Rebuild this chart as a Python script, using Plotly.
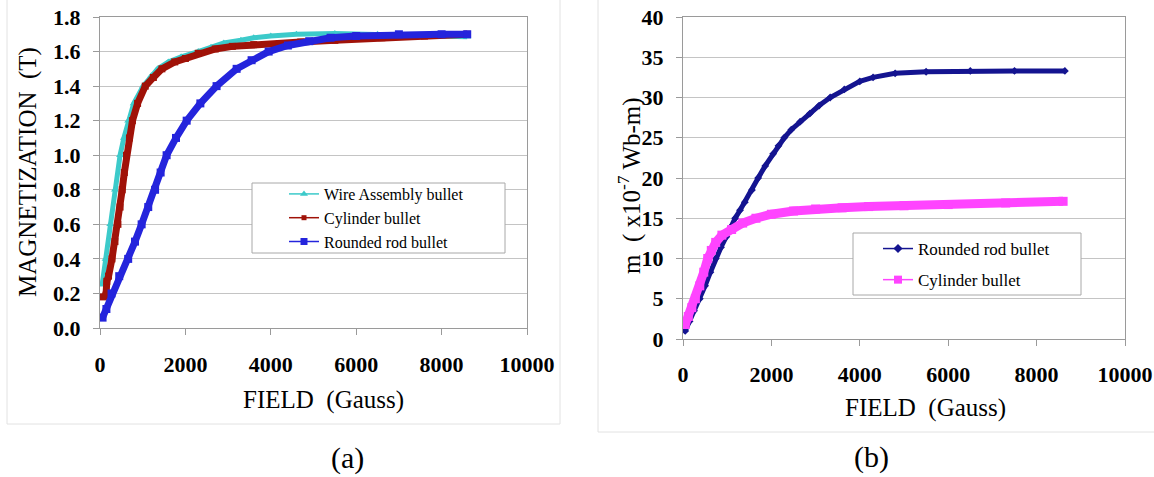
import plotly.graph_objects as go

W, H = 1154, 477
SERIF = "Liberation Serif"

field_ticks = [0, 2000, 4000, 6000, 8000, 10000]
field_tick_text = ["0", "2000", "4000", "6000", "8000", "10000"]

# (a) magnetization (T) against applied field (Gauss)
wire_field = [50, 130, 240, 350, 470, 560, 660, 790, 1010, 1200, 1350, 1600, 1900,
              2300, 2600, 2900, 3300, 3600, 4000, 4600, 5500, 6500, 7500, 8600]
wire_mag = [0.25, 0.40, 0.60, 0.80, 1.00, 1.10, 1.20, 1.30, 1.40, 1.46, 1.50, 1.54, 1.57,
            1.60, 1.625, 1.65, 1.665, 1.68, 1.69, 1.70, 1.705, 1.70, 1.695, 1.685]

cyl_a_field = [80, 140, 160, 200, 280, 350, 420, 470, 520, 570, 620, 690, 760, 880,
               1060, 1250, 1450, 1750, 2000, 2300, 2700, 3100, 3600, 4200, 4700,
               5500, 6600, 7600, 8600]
cyl_a_mag = [0.18, 0.19, 0.27, 0.30, 0.40, 0.50, 0.60, 0.70, 0.80, 0.90, 1.00, 1.10,
             1.20, 1.30, 1.40, 1.45, 1.50, 1.54, 1.56, 1.59, 1.615, 1.63, 1.64, 1.645,
             1.655, 1.665, 1.68, 1.69, 1.70]

rod_a_field = [60, 150, 270, 450, 660, 820, 975, 1130, 1290, 1420, 1560, 1780, 2030,
               2350, 2730, 3200, 3550, 3950, 4400, 4900, 5400, 6000, 7000, 8000, 8600]
rod_a_mag = [0.06, 0.11, 0.20, 0.30, 0.40, 0.50, 0.60, 0.70, 0.80, 0.90, 1.00, 1.10,
             1.20, 1.30, 1.40, 1.50, 1.55, 1.60, 1.635, 1.66, 1.68, 1.69, 1.70, 1.70, 1.70]

# (b) magnetic moment (x10^-7 Wb-m) against applied field (Gauss)
rod_b_field = [50, 150, 250, 380, 500, 620, 740, 860, 980, 1080, 1180, 1290, 1400,
               1560, 1700, 1860, 2040, 2160, 2290, 2450, 2650, 2870, 3080, 3330, 3650,
               4000, 4300, 4800, 5500, 6500, 7500, 8640]
rod_b_m = [1.0, 2.2, 3.5, 5.0, 6.6, 8.3, 10.0, 11.4, 12.7, 13.9, 15.0, 16.0, 17.0,
           18.5, 20.0, 21.5, 23.0, 24.0, 25.0, 26.0, 27.0, 28.0, 29.0, 30.0, 31.0,
           32.0, 32.5, 33.0, 33.2, 33.3, 33.3, 33.3]

cyl_b_field = [50, 120, 200, 280, 380, 470, 560, 640, 740, 880, 1100, 1350, 1650, 2000,
               2500, 3000, 3600, 4200, 5000, 6000, 7300, 8600]
cyl_b_m = [1.8, 2.8, 3.9, 5.0, 6.6, 8.3, 10.0, 11.0, 12.0, 12.9, 13.6, 14.4, 15.0, 15.5,
           15.9, 16.15, 16.3, 16.45, 16.55, 16.7, 16.9, 17.1]

# name, x, y, colour, marker symbol, band width, marker size, legend marker size
series_a = [
    ("Wire Assembly bullet", wire_field, wire_mag, "#3ccaca", "triangle-up", 5, 7, 7),
    ("Cylinder bullet", cyl_a_field, cyl_a_mag, "#a01208", "square", 7, 7, 5),
    ("Rounded rod bullet", rod_a_field, rod_a_mag, "#2424dc", "square", 7, 8, 7),
]
series_b = [
    ("Rounded rod bullet", rod_b_field, rod_b_m, "#141490", "diamond", 5, 6, 7),
    ("Cylinder bullet", cyl_b_field, cyl_b_m, "#ff44ff", "square", 9, 9, 8),
]

fig = go.Figure()


def px_x(p):
    return p / W


def px_y(p):
    return 1 - p / H


for name, xs, ys, color, symbol, lw, ms, legend_ms in series_a:
    fig.add_trace(go.Scatter(
        x=xs, y=ys, mode="lines+markers", xaxis="x", yaxis="y", showlegend=False,
        line=dict(color=color, width=lw), marker=dict(color=color, symbol=symbol, size=ms),
        hoverinfo="skip"))
for name, xs, ys, color, symbol, lw, ms, legend_ms in series_a:
    fig.add_trace(go.Scatter(
        x=[None], y=[None], name=name, mode="lines+markers", xaxis="x", yaxis="y",
        legend="legend", line=dict(color=color, width=1.5),
        marker=dict(color=color, symbol=symbol, size=legend_ms)))

for name, xs, ys, color, symbol, lw, ms, legend_ms in series_b:
    fig.add_trace(go.Scatter(
        x=xs, y=ys, mode="lines+markers", xaxis="x2", yaxis="y2", showlegend=False,
        line=dict(color=color, width=lw), marker=dict(color=color, symbol=symbol, size=ms),
        hoverinfo="skip"))
for i, (name, xs, ys, color, symbol, lw, ms, legend_ms) in enumerate(series_b):
    fig.add_trace(go.Scatter(
        x=[None], y=[None], name=name, mode="lines+markers", xaxis="x2", yaxis="y2",
        legend="legend2", legendgroup=f"b{i}", line=dict(color=color, width=1.5),
        marker=dict(color=color, symbol=symbol, size=legend_ms)))

tick_font = dict(family=SERIF, size=22, color="#000000", weight="bold")
axis_common = dict(showline=True, linecolor="#9a9a9a", linewidth=1, mirror=True,
                   ticks="outside", ticklen=6, tickcolor="#9a9a9a", zeroline=False,
                   automargin=False, tickfont=tick_font)

fig.update_layout(
    template="none",
    width=W, height=H,
    margin=dict(l=0, r=0, t=0, b=0, autoexpand=False),
    paper_bgcolor="white", plot_bgcolor="white",
    font=dict(family=SERIF, color="#000000"),
    xaxis=dict(domain=[px_x(100), px_x(527)], range=[0, 10000], tickvals=field_ticks,
               ticktext=field_tick_text, showgrid=False, anchor="y",
               ticklabelstandoff=11, **axis_common),
    yaxis=dict(domain=[px_y(328), px_y(17)], range=[0, 1.8], dtick=0.2, tickformat=".1f",
               showgrid=True, gridcolor="#c4c4c4", gridwidth=1, anchor="x",
               ticklabelstandoff=8, **axis_common),
    xaxis2=dict(domain=[px_x(683), px_x(1125)], range=[0, 10000], tickvals=field_ticks,
                ticktext=field_tick_text, showgrid=False, anchor="y2",
                ticklabelstandoff=10, **axis_common),
    yaxis2=dict(domain=[px_y(339), px_y(17)], range=[0, 40], dtick=5,
                showgrid=True, gridcolor="#c4c4c4", gridwidth=1, anchor="x2",
                ticklabelstandoff=8, **axis_common),
    legend=dict(x=px_x(284), y=px_y(177), xanchor="left", yanchor="top",
                bgcolor="rgba(0,0,0,0)", borderwidth=0,
                font=dict(family=SERIF, size=16, color="#000000")),
    legend2=dict(x=px_x(878), y=px_y(231), xanchor="left", yanchor="top",
                 bgcolor="rgba(0,0,0,0)", borderwidth=0, traceorder="grouped",
                 tracegroupgap=6,
                 font=dict(family=SERIF, size=17, color="#000000")),
    shapes=[
        # chart-area frames
        dict(type="rect", xref="paper", yref="paper", x0=px_x(7), x1=px_x(560),
             y0=px_y(424), y1=px_y(-2), line=dict(color="#e2e2e2", width=1), layer="below"),
        dict(type="rect", xref="paper", yref="paper", x0=px_x(598), x1=px_x(1160),
             y0=px_y(432), y1=px_y(-2), line=dict(color="#e2e2e2", width=1), layer="below"),
        # legend frames
        dict(type="rect", xref="paper", yref="paper", x0=px_x(252), x1=px_x(505),
             y0=px_y(253), y1=px_y(183), fillcolor="white",
             line=dict(color="#a8a8a8", width=1), layer="above"),
        dict(type="rect", xref="paper", yref="paper", x0=px_x(853), x1=px_x(1081),
             y0=px_y(295), y1=px_y(233), fillcolor="white",
             line=dict(color="#a8a8a8", width=1), layer="above"),
    ],
    annotations=[
        dict(text="MAGNETIZATION  (T)", x=px_x(28), y=px_y(172), xref="paper", yref="paper",
             textangle=-90, showarrow=False, xanchor="center", yanchor="middle",
             font=dict(family=SERIF, size=25)),
        dict(text="FIELD  (Gauss)", x=px_x(323), y=px_y(400), xref="paper", yref="paper",
             showarrow=False, xanchor="center", yanchor="middle",
             font=dict(family=SERIF, size=25)),
        dict(text="m  ( x10<sup>-7</sup> Wb-m)", x=px_x(629), y=px_y(186), xref="paper",
             yref="paper", textangle=-90, showarrow=False, xanchor="center",
             yanchor="middle", font=dict(family=SERIF, size=25)),
        dict(text="FIELD  (Gauss)", x=px_x(925), y=px_y(408), xref="paper", yref="paper",
             showarrow=False, xanchor="center", yanchor="middle",
             font=dict(family=SERIF, size=25)),
        dict(text="(a)", x=px_x(347), y=px_y(458), xref="paper", yref="paper",
             showarrow=False, xanchor="center", yanchor="middle",
             font=dict(family=SERIF, size=30)),
        dict(text="(b)", x=px_x(871), y=px_y(457), xref="paper", yref="paper",
             showarrow=False, xanchor="center", yanchor="middle",
             font=dict(family=SERIF, size=30)),
    ],
)

fig.write_html("out.html")
